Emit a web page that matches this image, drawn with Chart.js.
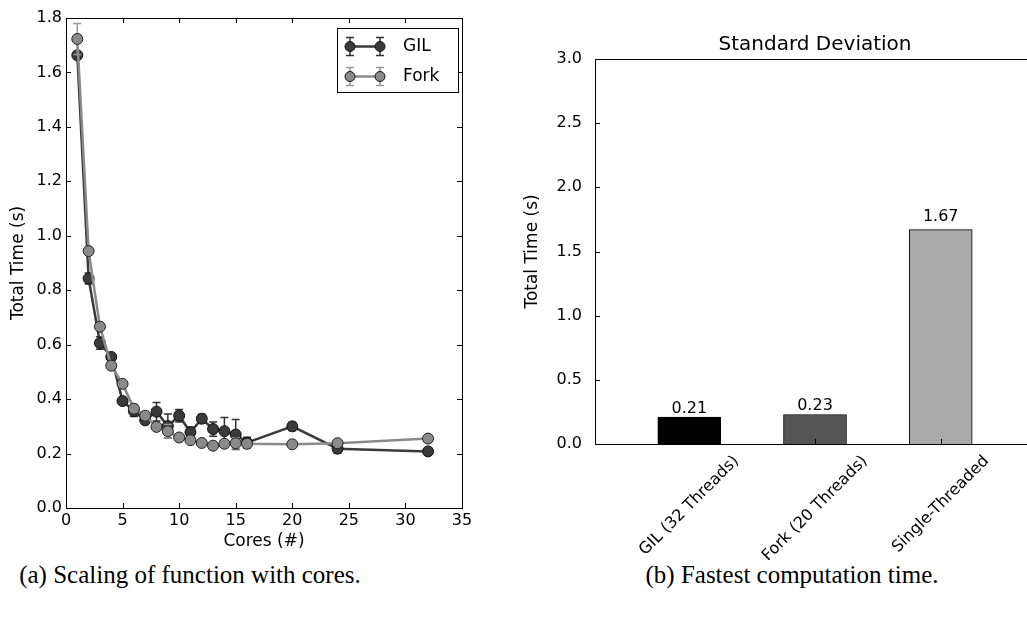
<!DOCTYPE html>
<html>
<head>
<meta charset="utf-8">
<script src="https://cdn.jsdelivr.net/npm/chart.js@4.4.0/dist/chart.umd.min.js"></script>
<style>
body { margin: 0; width: 1027px; height: 617px; overflow: hidden; background: #fff; position: relative; }
#c1 { position: absolute; left: 0; top: 0; }
#c2 { position: absolute; left: 500px; top: 0; }
.cap { position: absolute; top: 561px; font-family: "Liberation Serif", "DejaVu Serif", serif; font-size: 25px; color: #000; white-space: nowrap; text-align: center; }
</style>
</head>
<body>
<canvas id="c1" width="480" height="560"></canvas>
<canvas id="c2" width="540" height="560"></canvas>
<div class="cap" style="left:0;width:380px">(a) Scaling of function with cores.</div>
<div class="cap" style="left:592px;width:400px">(b) Fastest computation time.</div>
<script>
// left: scaling with cores
const cores = [1, 2, 3, 4, 5, 6, 7, 8, 9, 10, 11, 12, 13, 14, 15, 16, 20, 24, 32];
const gilTime = [1.663, 0.843, 0.606, 0.555, 0.393, 0.356, 0.322, 0.354, 0.301, 0.339, 0.278, 0.328, 0.290, 0.282, 0.270, 0.240, 0.300, 0.218, 0.208];
const gilErr = [0.01, 0.02, 0.023, 0.01, 0.006, 0.02, 0.006, 0.034, 0.044, 0.023, 0.02, 0.016, 0.026, 0.05, 0.055, 0.02, 0.015, 0.017, 0.005];
const forkTime = [1.723, 0.944, 0.666, 0.523, 0.456, 0.365, 0.339, 0.298, 0.282, 0.259, 0.249, 0.239, 0.229, 0.236, 0.238, 0.236, 0.234, 0.238, 0.255];
const forkErr = [0.057, 0.01, 0.01, 0.01, 0.01, 0.015, 0.006, 0.006, 0.025, 0.006, 0.006, 0.006, 0.006, 0.006, 0.02, 0.006, 0.006, 0.006, 0.006];

// right: fastest time
const methods = ['GIL (32 Threads)', 'Fork (20 Threads)', 'Single-Threaded'];
const bestTime = [0.21, 0.23, 1.67];
const barColors = ['#000000', '#555555', '#aaaaaa'];

Chart.defaults.font.family = '"DejaVu Sans"';
Chart.defaults.font.size = 16;
Chart.defaults.color = '#000';

const FONT = '16px "DejaVu Sans"';

const framePlugin = {
  id: 'frame',
  afterDraw(chart, args, o) {
    const { ctx, chartArea: a, scales: { x, y } } = chart;
    ctx.save();
    ctx.strokeStyle = '#000';
    ctx.lineWidth = 1;
    ctx.strokeRect(Math.round(a.left) + 0.5, Math.round(a.top) + 0.5, Math.round(a.right - a.left), Math.round(a.bottom - a.top));
    ctx.beginPath();
    const xs = o.xTicks || x.ticks.map(t => t.value);
    xs.forEach(v => {
      const px = Math.round(x.getPixelForValue(v)) + 0.5;
      ctx.moveTo(px, a.bottom); ctx.lineTo(px, a.bottom - 5);
      if (o.top) { ctx.moveTo(px, a.top); ctx.lineTo(px, a.top + 5); }
    });
    y.ticks.forEach(t => {
      const py = Math.round(y.getPixelForValue(t.value)) + 0.5;
      ctx.moveTo(a.left, py); ctx.lineTo(a.left + 5, py);
      if (o.right) { ctx.moveTo(a.right, py); ctx.lineTo(a.right - 5, py); }
    });
    ctx.stroke();
    ctx.restore();
  }
};

function errBar(ctx, px, y1, y2) {
  ctx.moveTo(px, y1); ctx.lineTo(px, y2);
  ctx.moveTo(px - 4, y1); ctx.lineTo(px + 4, y1);
  ctx.moveTo(px - 4, y2); ctx.lineTo(px + 4, y2);
}

const errPlugin = {
  id: 'errbars',
  beforeDatasetDraw(chart, args) {
    const { ctx, scales: { x, y } } = chart;
    const ds = chart.data.datasets[args.index];
    ctx.save();
    ctx.strokeStyle = ds.errColor;
    ctx.lineWidth = 1.5;
    ctx.beginPath();
    ds.data.forEach((p, j) => {
      const e = ds.err[j];
      errBar(ctx, x.getPixelForValue(p.x), y.getPixelForValue(p.y - e), y.getPixelForValue(p.y + e));
    });
    ctx.stroke();
    ctx.restore();
  }
};

const legendPlugin = {
  id: 'boxLegend',
  afterDraw(chart) {
    const { ctx } = chart;
    ctx.save();
    ctx.fillStyle = '#fff';
    ctx.strokeStyle = '#000';
    ctx.lineWidth = 1;
    ctx.fillRect(337.5, 28.5, 121, 64);
    ctx.strokeRect(337.5, 28.5, 121, 64);
    const rows = [46.5, 76.5];
    chart.data.datasets.forEach((ds, i) => {
      const yy = rows[i];
      ctx.strokeStyle = ds.errColor;
      ctx.lineWidth = 1.5;
      ctx.beginPath();
      errBar(ctx, 350, yy - 9, yy + 9);
      errBar(ctx, 380, yy - 9, yy + 9);
      ctx.stroke();
      ctx.strokeStyle = ds.borderColor;
      ctx.lineWidth = 2.5;
      ctx.beginPath(); ctx.moveTo(350, yy); ctx.lineTo(380, yy); ctx.stroke();
      [350, 380].forEach(px => {
        ctx.beginPath(); ctx.arc(px, yy, 5, 0, Math.PI * 2);
        ctx.fillStyle = ds.pointBackgroundColor; ctx.fill();
        ctx.strokeStyle = '#111'; ctx.lineWidth = 1; ctx.stroke();
      });
      ctx.fillStyle = '#000';
      ctx.font = '17px "DejaVu Sans"';
      ctx.textBaseline = 'middle';
      ctx.fillText(ds.label, 403, yy);
    });
    ctx.restore();
  }
};

const xy = ys => cores.map((c, i) => ({ x: c, y: ys[i] }));

new Chart(document.getElementById('c1'), {
  type: 'line',
  data: {
    datasets: [
      { label: 'GIL', data: xy(gilTime), err: gilErr, errColor: '#333',
        borderColor: '#3a3a3a', backgroundColor: '#3a3a3a', pointBackgroundColor: '#3a3a3a',
        pointBorderColor: '#111', pointBorderWidth: 1, pointRadius: 5.5, borderWidth: 2.5, order: 2 },
      { label: 'Fork', data: xy(forkTime), err: forkErr, errColor: '#999',
        borderColor: '#8a8a8a', backgroundColor: '#8a8a8a', pointBackgroundColor: '#8a8a8a',
        pointBorderColor: '#222', pointBorderWidth: 1, pointRadius: 5.5, borderWidth: 2.5, order: 1 }
    ]
  },
  options: {
    responsive: false, animation: false, events: [],
    layout: { padding: { top: 18, right: 18 } },
    plugins: { legend: { display: false }, tooltip: { enabled: false }, frame: { top: true, right: true } },
    scales: {
      x: {
        type: 'linear', min: 0, max: 35,
        ticks: { stepSize: 5, padding: 3, maxRotation: 0 },
        grid: { display: false, drawTicks: false }, border: { display: false },
        title: { display: true, text: 'Cores (#)', font: { size: 17 }, padding: { top: 0, bottom: 8 } },
        afterFit(s) { s.height = 52; }
      },
      y: {
        min: 0, max: 1.8,
        ticks: { stepSize: 0.2, padding: 4, callback: v => v.toFixed(1) },
        grid: { display: false, drawTicks: false }, border: { display: false },
        title: { display: true, text: 'Total Time (s)', font: { size: 17 }, padding: { top: 8, bottom: 0 } },
        afterFit(s) { s.width = 66; }
      }
    }
  },
  plugins: [errPlugin, framePlugin, legendPlugin]
});

const barText = {
  id: 'barText',
  afterDraw(chart) {
    const { ctx, chartArea: a, scales: { x, y } } = chart;
    ctx.save();
    ctx.fillStyle = '#000';
    ctx.font = '20px "DejaVu Sans"';
    ctx.textAlign = 'center';
    ctx.textBaseline = 'middle';
    ctx.fillText('Standard Deviation', (a.left + a.right) / 2, 45);
    ctx.font = FONT;
    ctx.textBaseline = 'alphabetic';
    bestTime.forEach((v, i) => {
      ctx.fillText(v.toFixed(2), x.getPixelForValue(i), y.getPixelForValue(v * 1.02) - 4);
    });
    methods.forEach((m, i) => {
      const w = ctx.measureText(m).width;
      const half = (w + 18.6) * Math.SQRT1_2 / 2;
      ctx.save();
      ctx.translate(x.getPixelForValue(i), a.bottom + 8 + half);
      ctx.rotate(-Math.PI / 4);
      ctx.textBaseline = 'middle';
      ctx.fillText(m, 0, 0);
      ctx.restore();
    });
    ctx.restore();
  }
};

new Chart(document.getElementById('c2'), {
  type: 'bar',
  data: {
    datasets: [{
      data: bestTime.map((v, i) => ({ x: i, y: v })),
      backgroundColor: barColors, borderColor: '#000', borderWidth: 1,
      barThickness: 63
    }]
  },
  options: {
    responsive: false, animation: false, events: [],
    layout: { padding: { top: 59, right: 5 } },
    plugins: { legend: { display: false }, tooltip: { enabled: false }, frame: { xTicks: [0, 1, 2] } },
    scales: {
      x: {
        type: 'linear', min: -0.75, max: 2.75, offset: false,
        ticks: { display: false },
        grid: { display: false, drawTicks: false }, border: { display: false },
        afterFit(s) { s.height = 116; }
      },
      y: {
        min: 0, max: 3,
        ticks: { stepSize: 0.5, padding: 13, callback: v => v.toFixed(1) },
        grid: { display: false, drawTicks: false }, border: { display: false },
        title: { display: true, text: 'Total Time (s)', font: { size: 17 }, padding: { top: 22, bottom: 0 } },
        afterFit(s) { s.width = 95; }
      }
    }
  },
  plugins: [framePlugin, barText]
});
</script>
</body>
</html>
